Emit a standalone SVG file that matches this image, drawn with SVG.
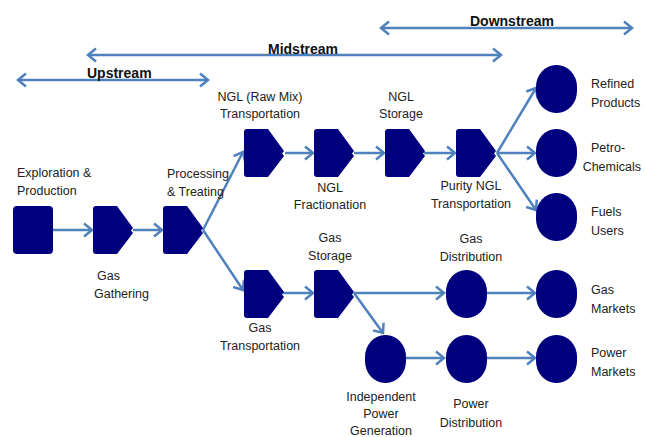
<svg xmlns="http://www.w3.org/2000/svg" width="645" height="437" viewBox="0 0 645 437">
<style>
.n{fill:#00007f}
.c{stroke:#4f81bd;stroke-width:2.5;fill:none}
.t{font-family:"Liberation Sans",Arial,sans-serif;font-size:12.5px;fill:#222}
.m{text-anchor:middle}
.h{font-family:"Liberation Sans",Arial,sans-serif;font-size:14px;font-weight:bold;fill:#111}
</style>
<defs>
<marker id="a" markerUnits="userSpaceOnUse" markerWidth="12" markerHeight="16" refX="9" refY="7" orient="auto-start-reverse" viewBox="0 0 12 14">
<path d="M1,0.5 L9,7 L1,13.5" fill="none" stroke="#4f81bd" stroke-width="2.5"/>
</marker>
<path id="p" d="M0,3 Q0,0 3,0 H24 L40,22 L38,24.5 L40,27 L24,48 H3 Q0,48 0,45 Z"/>
<rect id="o" x="0" y="0" width="41" height="48" rx="20" ry="22"/>
</defs>
<g id="ranges">
<line class="c" x1="18" y1="80" x2="208" y2="80" marker-start="url(#a)" marker-end="url(#a)"/>
<line class="c" x1="88" y1="55" x2="501" y2="55" marker-start="url(#a)" marker-end="url(#a)"/>
<line class="c" x1="381" y1="28" x2="632" y2="28" marker-start="url(#a)" marker-end="url(#a)"/>
<text class="h" x="87" y="78" font-size="13">Upstream</text>
<text class="h" x="268" y="54">Midstream</text>
<text class="h" x="470" y="26" font-size="13.5">Downstream</text>
</g>
<g id="connectors">
<line class="c" x1="53" y1="230" x2="92" y2="230" marker-end="url(#a)"/>
<line class="c" x1="133" y1="230" x2="162" y2="230" marker-end="url(#a)"/>
<line class="c" x1="203" y1="230" x2="243" y2="152" marker-end="url(#a)"/>
<line class="c" x1="203" y1="230" x2="243" y2="290" marker-end="url(#a)"/>
<line class="c" x1="285" y1="153" x2="313" y2="153" marker-end="url(#a)"/>
<line class="c" x1="354" y1="153" x2="384" y2="153" marker-end="url(#a)"/>
<line class="c" x1="424" y1="153" x2="455" y2="153" marker-end="url(#a)"/>
<line class="c" x1="497" y1="153" x2="536" y2="88" marker-end="url(#a)"/>
<line class="c" x1="497" y1="153" x2="535" y2="153" marker-end="url(#a)"/>
<line class="c" x1="497" y1="153" x2="536" y2="210" marker-end="url(#a)"/>
<line class="c" x1="283" y1="293" x2="313" y2="293" marker-end="url(#a)"/>
<line class="c" x1="354" y1="293" x2="444" y2="293" marker-end="url(#a)"/>
<line class="c" x1="354" y1="293" x2="383" y2="333" marker-end="url(#a)"/>
<line class="c" x1="405" y1="358" x2="444" y2="358" marker-end="url(#a)"/>
<line class="c" x1="487" y1="293" x2="535" y2="293" marker-end="url(#a)"/>
<line class="c" x1="487" y1="358" x2="535" y2="358" marker-end="url(#a)"/>
</g>
<g id="exploration">
<rect class="n" x="13" y="206" width="40" height="48" rx="4"/>
<text class="t" x="17" y="177">Exploration &amp;</text>
<text class="t" x="17" y="195">Production</text>
</g>
<g id="gathering">
<use href="#p" class="n" x="93" y="206"/>
<text class="t" x="97" y="280">Gas</text>
<text class="t" x="94" y="298">Gathering</text>
</g>
<g id="processing">
<use href="#p" class="n" x="163" y="206"/>
<text class="t" x="167" y="178">Processing</text>
<text class="t" x="167" y="196">&amp; Treating</text>
</g>
<g id="ngl-raw">
<use href="#p" class="n" x="244" y="129"/>
<text class="t m" x="260" y="101">NGL (Raw Mix)</text>
<text class="t m" x="260" y="118">Transportation</text>
</g>
<g id="ngl-frac">
<use href="#p" class="n" x="314" y="129"/>
<text class="t m" x="330" y="192">NGL</text>
<text class="t m" x="330" y="209">Fractionation</text>
</g>
<g id="ngl-storage">
<use href="#p" class="n" x="385" y="129"/>
<text class="t m" x="401" y="101">NGL</text>
<text class="t m" x="401" y="118">Storage</text>
</g>
<g id="purity-ngl">
<use href="#p" class="n" x="456" y="129"/>
<text class="t m" x="471" y="190">Purity NGL</text>
<text class="t m" x="471" y="208">Transportation</text>
</g>
<g id="refined">
<use href="#o" class="n" x="536" y="65"/>
<text class="t" x="591" y="88">Refined</text>
<text class="t" x="591" y="107">Products</text>
</g>
<g id="petro">
<use href="#o" class="n" x="536" y="129"/>
<text class="t" x="591" y="152">Petro-</text>
<text class="t" x="641" y="171" font-size="11" text-anchor="end">Chemicals</text>
</g>
<g id="fuels">
<use href="#o" class="n" x="536" y="193"/>
<text class="t" x="591" y="216">Fuels</text>
<text class="t" x="591" y="235">Users</text>
</g>
<g id="gas-transport">
<use href="#p" class="n" x="244" y="270"/>
<text class="t m" x="260" y="332">Gas</text>
<text class="t m" x="260" y="350">Transportation</text>
</g>
<g id="gas-storage">
<use href="#p" class="n" x="314" y="270"/>
<text class="t m" x="330" y="242">Gas</text>
<text class="t m" x="330" y="260">Storage</text>
</g>
<g id="gas-dist">
<use href="#o" class="n" x="446" y="270"/>
<text class="t m" x="471" y="243">Gas</text>
<text class="t m" x="471" y="261">Distribution</text>
</g>
<g id="gas-markets">
<use href="#o" class="n" x="536" y="270"/>
<text class="t" x="591" y="294">Gas</text>
<text class="t" x="591" y="313">Markets</text>
</g>
<g id="ipg">
<use href="#o" class="n" x="365" y="335"/>
<text class="t m" x="381" y="401">Independent</text>
<text class="t m" x="381" y="418">Power</text>
<text class="t m" x="381" y="435">Generation</text>
</g>
<g id="power-dist">
<use href="#o" class="n" x="446" y="335"/>
<text class="t m" x="471" y="408">Power</text>
<text class="t m" x="471" y="427">Distribution</text>
</g>
<g id="power-markets">
<use href="#o" class="n" x="536" y="335"/>
<text class="t" x="591" y="357">Power</text>
<text class="t" x="591" y="376">Markets</text>
</g>
</svg>
